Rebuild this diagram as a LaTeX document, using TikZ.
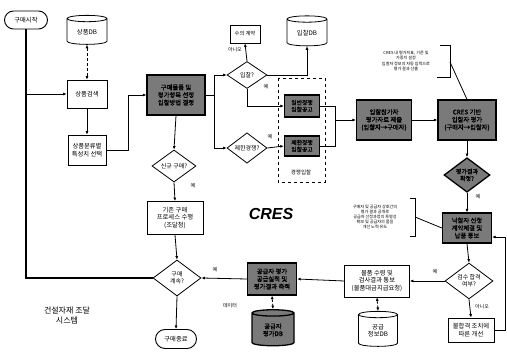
\documentclass[tikz,border=0pt]{standalone}
\usepackage{fontspec}
\setmainfont{Noto Sans CJK KR}[AutoFakeBold=1.5]
\newfontfamily\cresfont{Liberation Sans}
\usetikzlibrary{shapes.geometric,shapes.misc,arrows.meta}
\begin{document}
\begin{tikzpicture}[x=1pt,y=-1pt,
  base/.style={font=\fontsize{6.3}{7.3}\selectfont, align=center, inner sep=0.5pt},
  term/.style={base, rounded rectangle, draw, line width=0.9pt},
  wbox/.style={base, rectangle, draw, line width=0.8pt},
  dbox/.style={base, rectangle, draw, line width=1.3pt, fill=black!52, font=\fontsize{6.3}{7.6}\selectfont\bfseries},
  dia/.style={base, diamond, draw, line width=0.8pt, inner sep=0pt, font=\fontsize{6}{7}\selectfont},
  db/.style={base, cylinder, shape border rotate=90, aspect=0.3, draw, line width=0.8pt},
  note/.style={font=\fontsize{4.1}{5.2}\selectfont, align=center, inner sep=0pt},
  lab/.style={font=\fontsize{5}{5.5}\selectfont, inner sep=0pt},
  conn/.style={line width=0.8pt, -{Latex[length=3.5pt,width=3pt]}},
  plain/.style={line width=0.8pt},
  dlink/.style={line width=0.8pt, densely dashed, {Latex[length=3.5pt,width=3pt]}-{Latex[length=3.5pt,width=3pt]}},
  mainline/.style={line width=1.4pt}
]
\useasboundingbox (0,0) rectangle (507,355);

% nodes
\node[term, minimum width=44, minimum height=18] (start) at (26,20) {구매시작};
\node[db, minimum width=40, minimum height=29] (db1) at (87,32) {상품DB};
\node[wbox, minimum width=40, minimum height=28] (b1) at (87,94) {상품검색};
\node[wbox, minimum width=38, minimum height=30] (b2) at (87,150) {상품분류별\\특성치 선택};
\node[dbox, minimum width=58, minimum height=40] (d1) at (176,95) {구매물품 및\\평가항목 선정\\입찰방법 결정};
\node[dia, minimum width=44, minimum height=32] (q1) at (174,166) {신규 구매?};
\node[wbox, minimum width=56, minimum height=33] (b3) at (175,218) {기존 구매\\프로세스 수행\\(조달청)};
\node[dia, minimum width=48, minimum height=36] (q5) at (177,278) {구매\\계속?};
\node[term, minimum width=42, minimum height=19] (end) at (176,339) {구매종료};

\node[dia, minimum width=40, minimum height=27] (q2) at (247,75) {입찰?};
\node[wbox, minimum width=30, minimum height=18, font=\fontsize{5.3}{6.3}\selectfont] (b4) at (245,34) {수의 계약};
\node[db, minimum width=40, minimum height=30] (db2) at (307,33) {입찰DB};
\node[dia, minimum width=40, minimum height=28] (q3) at (247,148) {제한경쟁?};

\draw[dashed, line width=0.7pt] (278,78) rectangle (325,182);
\node[dbox, minimum width=35, minimum height=22, font=\fontsize{5.8}{6.8}\selectfont\bfseries] (d2a) at (302,106) {일반경쟁\\입찰공고};
\node[dbox, minimum width=35, minimum height=20, font=\fontsize{5.8}{6.8}\selectfont\bfseries] (d2b) at (302,146) {제한경쟁\\입찰공고};
\node[lab, font=\fontsize{5.5}{6}\selectfont] (grp) at (301,172) {경쟁입찰};

\node[dbox, minimum width=55, minimum height=40] (d3) at (384,120) {입찰참가자\\평가자료 제출\\(입찰자→구매자)};
\node[dbox, minimum width=58, minimum height=40] (d4) at (467,120) {CRES 기반\\입찰자 평가\\(구매자→입찰자)};
\node[dia, fill=black!52, line width=1.3pt, font=\fontsize{6}{7}\selectfont\bfseries, minimum width=46, minimum height=34] (q4) at (467,175) {평가결과\\확정?};
\node[dbox, minimum width=49, minimum height=30] (d5) at (467,228) {낙찰자 선정\\계약체결 및\\납품 통보};
\node[dia, minimum width=48, minimum height=32] (q6) at (469,281) {검수 합격\\여부?};
\node[wbox, minimum width=46, minimum height=24] (b5) at (471,330) {불합격 조치에\\따른 개선};
\node[wbox, minimum width=65, minimum height=32] (b6) at (377,281) {물품 수령 및\\검사결과 통보\\(물품대금지급요청)};
\node[db, minimum width=39, minimum height=35] (db3) at (378,331) {공급\\정보DB};
\node[dbox, minimum width=49, minimum height=32] (d6) at (272,279) {공급자 평가\\공급실적 및\\평가결과 축적};
\node[db, fill=black!52, line width=1.3pt, font=\fontsize{6.3}{7.3}\selectfont\bfseries, minimum width=42, minimum height=36] (ddb) at (273,330) {공급자\\평가DB};

\node[font=\cresfont\bfseries\itshape\fontsize{16}{16}\selectfont, inner sep=0pt] (cres) at (271,214) {CRES};
\node[font=\fontsize{8}{10}\selectfont, align=center, inner sep=0pt] (sys) at (67,316) {건설자재 조달\\시스템};

% notes
\node[note] (n1) at (406,61) {CRES 내 평가지표, 기준 및\\가중치 설정\\입찰자 정보의 자동 입력으로\\평가 결과 산출};
\coordinate (n1a) at (440,45); \coordinate (n1b) at (450,45);
\coordinate (n1c) at (450,77); \coordinate (n1d) at (437,77);
\coordinate (n1m) at (450,62);
\draw[line width=0.8pt] (n1a) -- (n1b) -- (n1c) -- (n1d);
\draw[line width=0.8pt] (n1m) -- (d4.north);

\node[note] (n2) at (375,217) {구매자 및 공급자 상호간의\\평가 결과 공개로\\공급자 선정과정의 투명성\\확보 및 공급자의 품질\\개선 노력 유도};
\coordinate (n2a) at (410,198); \coordinate (n2b) at (415,198);
\coordinate (n2c) at (415,236); \coordinate (n2d) at (410,236);
\coordinate (n2m) at (415,217);
\draw[line width=0.8pt] (n2a) -- (n2b) -- (n2c) -- (n2d);
\draw[line width=0.8pt] (n2m) -- (d5.west);

% main line
\coordinate (mcorner) at (26,278);
\coordinate (mb1) at (26,94);
\draw[mainline] (start.south) -- (mcorner) -- (q5.west);
\draw[conn] (mb1) -- (b1.west);

% connectors
\draw[dlink] (db1.south) -- (b1.north);
\draw[conn] (b1.south) -- (b2.north);
\coordinate (c2) at (128,150);
\coordinate (c3) at (128,95);
\draw[conn] (b2.east) -- (c2) -- (c3) -- (d1.west);
\draw[conn] (d1.south) -- (q1.north);
\draw[conn] (q1.south) -- (b3.north);
\draw[conn] (b3.south) -- (q5.north);
\draw[conn] (q5.south) -- (end.north);

\coordinate (split) at (214,95);
\draw[plain] (d1.east) -- (split);
\draw[conn] (split) |- (q2.west);
\draw[conn] (split) |- (q3.west);
\draw[conn] (q2.north) -- (b4.south);
\draw[conn] (q2.east) -| (db2.south);
\draw[conn] (q2.south) |- (d2a.west);
\draw[conn] (q3.east) -- (d2b.west);

\coordinate (m) at (335,120);
\draw[plain] (d2a.east) -| (m);
\draw[plain] (d2b.east) -| (m);
\draw[conn] (m) -- (d3.west);
\draw[conn] (d3.east) -- (d4.west);
\draw[conn] (d4.south) -- (q4.north);
\draw[conn] (q4.south) -- (d5.north);
\draw[conn] (d5.south) -- (q6.north);
\draw[conn] (q6.west) -- (b6.east);
\draw[conn] (q6.south) -- (b5.north);
\coordinate (lp1) at (505,330);
\coordinate (lp2) at (505,237);
\draw[conn] (b5.east) -- (lp1) -- (lp2) -- (d5.east |- lp2);
\draw[dlink] (b6.south) -- (db3.north);
\draw[conn] (b6.west) -- (d6.east);
\draw[dlink] (d6.south) -- (ddb.north);
\draw[conn] (d6.west) -- (q5.east);

% labels
\node[lab, anchor=east] (l1) at (242,50) {아니오};
\node[lab] (l2) at (266,87) {예};
\node[lab] (l3) at (270,137) {예};
\node[lab] (l4) at (193,186) {예};
\node[lab] (l5) at (478,197) {예};
\node[lab] (l6) at (435,272) {예};
\node[lab] (l7) at (482,307) {아니오};
\node[lab] (l8) at (215,270) {예};
\node[lab] (l9) at (230,306) {데이터};
\end{tikzpicture}
\end{document}
